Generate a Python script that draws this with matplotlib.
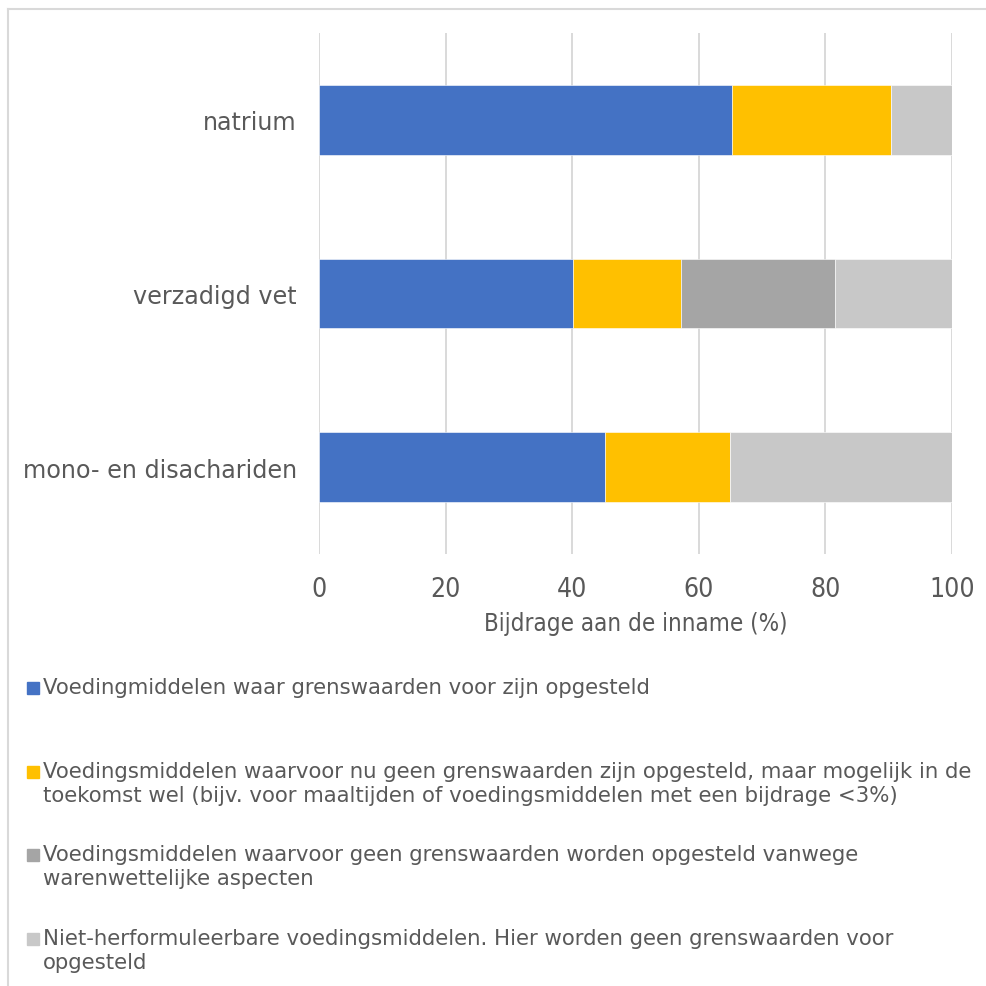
import matplotlib
matplotlib.use("Agg")
import matplotlib.pyplot as plt
from matplotlib.patches import Rectangle
from matplotlib.lines import Line2D
import numpy as np

categories = ["natrium", "verzadigd vet", "mono- en disachariden"]
met_grenswaarden = [65.2, 40.1, 45.2]
toekomst = [25.1, 17.1, 19.7]
warenwet = [0.0, 24.3, 0.0]
niet_herformuleerbaar = [9.7, 18.5, 35.1]
series = [met_grenswaarden, toekomst, warenwet, niet_herformuleerbaar]
series_labels = [
    "Voedingmiddelen waar grenswaarden voor zijn opgesteld",
    "Voedingsmiddelen waarvoor nu geen grenswaarden zijn opgesteld, maar mogelijk in de\ntoekomst wel (bijv. voor maaltijden of voedingsmiddelen met een bijdrage <3%)",
    "Voedingsmiddelen waarvoor geen grenswaarden worden opgesteld vanwege\nwarenwettelijke aspecten",
    "Niet-herformuleerbare voedingsmiddelen. Hier worden geen grenswaarden voor\nopgesteld",
]
colors = ["#4472C4", "#FFC000", "#A5A5A5", "#C8C8C8"]
xticks = [0, 20, 40, 60, 80, 100]
xlabel = "Bijdrage aan de inname (%)"

W = H = 987
fig = plt.figure(figsize=(W / 100, H / 100), dpi=100)
txt = "#595959"
grid = "#D9D9D9"

# outer frame (left and top edges only visible)
fig.add_artist(Line2D([8 / W, 8 / W], [0, 1 - 10 / H], transform=fig.transFigure,
                      color=grid, lw=1.5))
fig.add_artist(Line2D([8 / W, 1], [1 - 10 / H, 1 - 10 / H], transform=fig.transFigure,
                      color=grid, lw=1.5))

ax = fig.add_axes([319 / W, 1 - 555 / H, (952 - 319) / W, (555 - 34) / H])
y = np.arange(len(categories))
left = np.zeros(len(categories))
for vals, col in zip(series, colors):
    ax.barh(y, vals, left=left, height=0.4, color=col, edgecolor="white",
            linewidth=0.4, zorder=3)
    left = left + np.array(vals)

ax.set_ylim(len(categories) - 0.5, -0.5)
ax.set_xlim(0, 100)
ax.set_xticks(xticks)
ax.set_xticklabels([str(t) for t in xticks], fontsize=19, color=txt,
                   fontstretch="condensed")
ax.set_yticks(y)
ax.set_yticklabels(categories, fontsize=17.2, color=txt)
ax.tick_params(axis="both", length=0)
ax.tick_params(axis="x", pad=16)
ax.tick_params(axis="y", pad=16)
ax.grid(axis="x", color=grid, lw=1.4, zorder=0)
for s in ax.spines.values():
    s.set_visible(False)
ax.set_xlabel(xlabel, fontsize=17.3, color=txt, fontstretch="condensed", labelpad=6)

# legend
leg_y = [689, 773, 856, 940]
for lab, col, yy in zip(series_labels, colors, leg_y):
    fig.patches.append(Rectangle((27 / W, 1 - (yy + 6) / H), 12 / W, 12 / H,
                                 transform=fig.transFigure, color=col))
    fig.text(43 / W, 1 - (yy - 11) / H, lab, fontsize=15.3, color=txt,
             va="top", ha="left", linespacing=1.24)

fig.savefig("out.png", dpi=100)
